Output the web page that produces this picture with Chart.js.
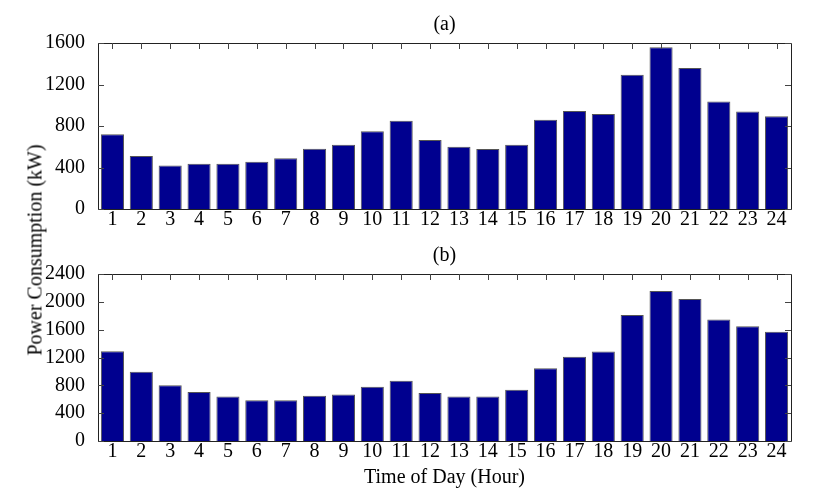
<!DOCTYPE html>
<html>
<head>
<meta charset="utf-8">
<script src="https://cdn.jsdelivr.net/npm/chart.js@4.4.1/dist/chart.umd.min.js"></script>
<style>
  html, body { margin: 0; padding: 0; background: #fff; }
  #wrap { position: relative; width: 831px; height: 498px; overflow: hidden; }
  canvas { position: absolute; left: 0; }
  #ylab { position: absolute; left: 35px; top: 250px; transform: translate(-50%, -50%) rotate(-90deg);
          font-family: "Liberation Serif", serif; font-size: 20px; color: #000; white-space: nowrap; }
</style>
</head>
<body>
<div id="wrap">
  <canvas id="ca" width="831" height="240" style="top:0px;width:831px;height:240px"></canvas>
  <canvas id="cb" width="831" height="258" style="top:240px;width:831px;height:258px"></canvas>
  <div id="ylab">Power Consumption (kW)</div>
</div>
<script>
const hours = ["1","2","3","4","5","6","7","8","9","10","11","12","13","14","15","16","17","18","19","20","21","22","23","24"];
const loadA = [720, 510, 420, 435, 435, 455, 490, 580, 620, 750, 850, 665, 600, 578, 620, 860, 945, 915, 1295, 1560, 1360, 1035, 940, 895];
const loadB = [1290, 995, 800, 705, 640, 585, 585, 650, 670, 780, 865, 690, 640, 640, 735, 1045, 1210, 1285, 1810, 2155, 2040, 1745, 1650, 1570];
const titleA = "(a)";
const titleB = "(b)";
const xTitle = "Time of Day (Hour)";
const yMaxA = 1600, yMaxB = 2400, yStep = 400;

const FONT = "Liberation Serif";

const framePlugin = {
  id: 'frame',
  afterDraw(chart, args, opts) {
    const ctx = chart.ctx, a = chart.chartArea;
    const xs = chart.scales.x, ys = chart.scales.y;
    ctx.save();
    ctx.strokeStyle = '#222';
    ctx.lineWidth = 1;
    ctx.beginPath();
    ctx.rect(Math.round(a.left) + 0.5, Math.round(a.top) + 0.5, Math.round(a.right - a.left), Math.round(a.bottom - a.top));
    ctx.stroke();
    ctx.strokeStyle = '#444';
    ctx.beginPath();
    for (let i = 0; i < xs.ticks.length; i++) {
      const px = Math.round(xs.getPixelForTick(i)) + 0.5;
      ctx.moveTo(px, a.top); ctx.lineTo(px, a.top + 6);
    }
    for (let i = 0; i < ys.ticks.length; i++) {
      const py = Math.round(ys.getPixelForTick(i)) + 0.5;
      ctx.moveTo(a.left, py); ctx.lineTo(a.left + 6, py);
      ctx.moveTo(a.right, py); ctx.lineTo(a.right - 6, py);
    }
    ctx.stroke();
    ctx.fillStyle = '#000';
    ctx.font = '20px "' + FONT + '"';
    ctx.textAlign = 'center';
    ctx.textBaseline = 'middle';
    ctx.fillText(opts.title, (a.left + a.right) / 2, opts.titleY);
    if (opts.xlabel) ctx.fillText(opts.xlabel, (a.left + a.right) / 2, opts.xlabelY);
    ctx.restore();
  }
};

function makeChart(id, data, yMax, padTop, canvasH, plotBottom, title, titleY, xlabel, xlabelY) {
  return new Chart(document.getElementById(id), {
    type: 'bar',
    data: {
      labels: hours,
      datasets: [{
        data: data,
        backgroundColor: '#00008F',
        borderColor: '#555',
        borderWidth: 1,
        barPercentage: 0.8,
        categoryPercentage: 1.0
      }]
    },
    options: {
      responsive: false,
      animation: false,
      events: [],
      layout: { padding: { left: 0, right: 40, top: padTop, bottom: 0 } },
      plugins: {
        legend: { display: false },
        tooltip: { enabled: false },
        frame: { title: title, titleY: titleY, xlabel: xlabel, xlabelY: xlabelY }
      },
      scales: {
        x: {
          offset: true,
          grid: { display: false },
          border: { display: false },
          ticks: { color: '#000', font: { family: FONT, size: 20 }, padding: -9, maxRotation: 0, autoSkip: false },
          afterFit(s) { s.height = canvasH - plotBottom; }
        },
        y: {
          min: 0, max: yMax,
          grid: { display: false },
          border: { display: false },
          ticks: { stepSize: yStep, color: '#000', font: { family: FONT, size: 20 }, padding: 5,
                   callback: (v) => String(v) },
          afterFit(s) { s.width = 98; }
        }
      }
    },
    plugins: [framePlugin]
  });
}

makeChart('ca', loadA, yMaxA, 43, 240, 209, titleA, 25, null, 0);
makeChart('cb', loadB, yMaxB, 34, 258, 201, titleB, 16, xTitle, 238);
</script>
</body>
</html>
